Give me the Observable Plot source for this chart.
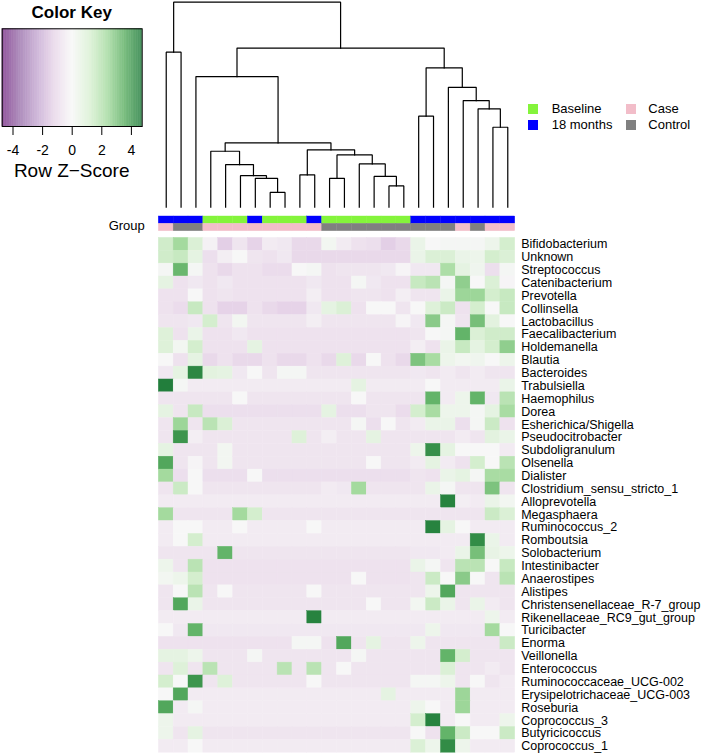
<!DOCTYPE html>
<html>
<head>
<meta charset="utf-8">
<script src="https://cdn.jsdelivr.net/npm/d3@7"></script>
<script src="https://cdn.jsdelivr.net/npm/@observablehq/plot@0.6"></script>
<style>
  body { margin: 0; background: #fff; font-family: "Liberation Sans", Arial, Helvetica, sans-serif; }
  #chart { position: relative; width: 717px; height: 754px; overflow: hidden; background: #fff; }
  #chart svg { position: absolute; left: 0; top: 0; }
  .t { position: absolute; white-space: nowrap; color: #000; font-family: "Liberation Sans", Arial, Helvetica, sans-serif; }
  .sw { position: absolute; width: 10px; height: 10px; }
</style>
</head>
<body>
<div id="chart"></div>
<script>
// ---------------- data ----------------
const taxa = ["Bifidobacterium","Unknown","Streptococcus","Catenibacterium","Prevotella","Collinsella",
  "Lactobacillus","Faecalibacterium","Holdemanella","Blautia","Bacteroides","Trabulsiella","Haemophilus",
  "Dorea","Esherichica/Shigella","Pseudocitrobacter","Subdoligranulum","Olsenella","Dialister",
  "Clostridium_sensu_stricto_1","Alloprevotella","Megasphaera","Ruminococcus_2","Romboutsia",
  "Solobacterium","Intestinibacter","Anaerostipes","Alistipes","Christensenellaceae_R-7_group",
  "Rikenellaceae_RC9_gut_group","Turicibacter","Enorma","Veillonella","Enterococcus",
  "Ruminococcaceae_UCG-002","Erysipelotrichaceae_UCG-003","Roseburia","Coprococcus_3",
  "Butyricicoccus","Coprococcus_1"];

// samples in dendrogram order
const columns = ["s01","s02","s03","s04","s05","s06","s07","s08","s09","s10","s11","s12",
  "s13","s14","s15","s16","s17","s18","s19","s20","s21","s22","s23","s24"];

const timepoint = ["18 months","18 months","18 months","Baseline","Baseline","Baseline","18 months",
  "Baseline","Baseline","Baseline","18 months","Baseline","Baseline","Baseline","Baseline","Baseline",
  "Baseline","18 months","18 months","18 months","18 months","18 months","18 months","18 months"];

const status = ["Case","Control","Control","Case","Case","Case","Case","Case","Case","Case","Case",
  "Control","Control","Control","Control","Control","Control","Control","Control","Control","Case",
  "Control","Case","Case"];

// row z-scores (one array per taxon, columns in dendrogram order)
const zRows = [
 [1.4,2.4,1.1,-0.2,-1.3,-0.6,-1.2,-0.4,-0.5,-1.0,-1.0,0.2,-0.4,-0.7,-0.8,-1.3,-1.0,0.5,0.0,0.1,0.1,0.1,0.4,1.3],
 [1.4,1.6,0.7,-0.8,-0.3,0.0,-0.6,-0.7,-0.5,-1.0,-1.0,-1.0,-1.0,-1.0,-1.0,-1.0,-1.0,0.5,1.1,1.1,0.5,0.4,1.3,1.1],
 [0.1,3.3,0.1,-0.7,-1.0,-0.7,-0.7,-0.9,-0.9,0.0,0.1,-0.7,-0.6,-0.6,-0.6,-0.5,-0.1,-0.5,-0.5,2.2,0.7,0.3,-0.8,0.1],
 [0.7,-0.7,-0.5,-0.7,-0.5,-0.7,-0.7,-0.7,-0.7,-0.7,-0.5,-0.7,-0.7,0.1,-0.5,-0.7,-0.7,1.6,1.9,0.1,2.7,0.0,1.1,-0.1],
 [-0.7,-0.7,0.0,-0.7,-0.6,-0.7,-0.7,-0.7,-0.7,-0.7,-0.3,-0.7,-0.7,-0.6,-0.6,-0.7,-0.3,-0.6,-0.6,0.5,2.5,2.5,1.3,1.6],
 [-0.7,-0.9,1.6,-0.7,-1.2,-1.2,-0.7,-1.0,-1.2,-1.2,-0.5,0.7,1.1,-0.7,0.0,0.0,-0.6,0.0,1.0,1.5,-0.7,1.3,0.0,1.6],
 [-0.6,-0.6,-0.5,1.3,-0.6,0.2,-0.6,-0.6,-0.6,-0.6,-0.3,-0.6,-0.6,-0.6,-0.6,-0.6,-0.1,-0.5,2.8,0.1,-0.6,3.1,0.8,0.0],
 [1.0,-0.7,0.5,-0.7,-0.7,-0.5,-0.7,-0.7,-0.7,-0.7,-0.7,-0.7,-0.7,-0.7,-0.7,-0.7,-0.7,-0.6,0.0,0.1,3.4,1.1,1.4,1.4],
 [1.0,0.2,1.3,-0.7,-0.7,-0.7,0.7,-0.7,-0.7,-0.7,-0.7,-0.7,-0.7,-0.7,-0.7,-0.7,-0.7,-0.3,-0.7,0.5,1.6,0.7,1.3,2.7],
 [0.0,-0.7,0.7,-1.0,-0.7,-1.0,-1.0,-0.7,-1.0,-1.0,-0.7,-1.0,1.0,-1.0,0.0,-0.7,-1.0,3.0,2.3,0.4,0.2,0.3,0.0,0.4],
 [-0.5,0.7,4.4,0.8,0.7,-0.5,0.0,-0.6,0.1,0.1,-0.6,-0.6,-0.6,-0.6,-0.6,-0.6,-0.6,-0.5,-0.6,-0.4,-0.6,-0.4,-0.6,-0.6],
 [4.6,0.1,-0.4,-0.4,-0.4,-0.4,-0.4,-0.4,-0.4,-0.4,-0.4,-0.4,-0.4,0.7,-0.4,-0.4,-0.4,-0.4,0.0,-0.4,-0.4,-0.4,-0.4,0.5],
 [-0.6,-0.6,-0.6,-0.6,-0.6,0.0,-0.6,-0.6,-0.6,-0.6,-0.6,-0.6,-0.6,0.0,-0.6,-0.6,-0.6,-0.6,3.4,-0.4,0.4,3.4,-0.5,1.9],
 [0.7,-0.6,1.6,-0.8,-0.8,-0.8,-0.8,-0.8,-0.8,-0.8,-0.8,0.7,-0.8,-0.8,-0.6,-0.6,-0.9,1.3,2.3,0.4,0.4,0.1,0.7,2.3],
 [-0.6,2.5,-0.6,1.9,1.1,-0.6,-0.6,-0.6,-0.6,-0.6,-0.6,-0.6,-0.6,0.1,-0.8,0.0,-0.6,-0.4,0.5,0.5,-0.8,0.1,1.5,-0.7],
 [-0.6,4.1,-0.3,-0.6,-0.6,-0.6,-0.6,-0.6,-0.6,1.0,-0.6,-0.3,-0.6,-0.6,0.7,-0.6,-0.6,-0.6,-0.6,-0.6,-0.4,-0.6,0.8,0.5],
 [0.7,-0.6,-0.6,-0.6,0.2,-0.6,-0.6,-0.6,-0.6,-0.6,-0.6,-0.6,-0.6,-0.6,-0.6,-0.6,-0.6,0.4,4.2,0.7,0.0,0.0,0.0,-0.4],
 [3.7,-0.6,-0.1,-0.6,0.2,-0.6,-0.6,-0.6,-0.6,-0.6,-0.6,-0.6,-0.6,-0.6,0.0,-0.6,-0.6,-0.4,0.7,-0.4,-0.7,1.3,0.0,1.9],
 [2.4,-0.8,0.0,-0.8,-0.8,-0.8,0.0,-0.8,-0.8,-0.8,-0.8,-0.8,-0.8,-0.8,-0.8,-0.8,-0.8,-0.6,-0.7,0.5,0.7,0.1,2.3,2.3],
 [-0.6,1.5,0.0,-0.6,-0.6,-0.6,-0.6,-0.6,-0.6,-0.6,-0.6,-0.4,-0.5,2.4,-0.6,-0.6,-0.6,-0.6,0.5,0.1,-0.6,-0.6,3.0,-0.6],
 [-0.4,-0.4,-0.4,-0.4,-0.4,-0.4,-0.4,-0.4,-0.4,-0.4,-0.4,-0.4,-0.4,-0.4,-0.4,-0.4,-0.4,-0.4,-0.4,4.5,-0.3,-0.4,0.5,0.2],
 [2.4,-0.6,-0.6,-0.6,-0.6,2.4,1.3,-0.6,-0.6,-0.6,-0.6,-0.6,-0.6,-0.6,-0.6,-0.6,-0.6,-0.6,-0.6,-0.6,-0.6,-0.6,1.5,1.1],
 [-0.4,0.0,0.0,-0.4,-0.4,0.0,-0.4,-0.4,-0.4,-0.4,0.0,-0.4,-0.4,-0.4,-0.4,-0.4,-0.4,-0.4,4.5,0.7,0.0,-0.4,-0.4,-0.4],
 [-0.4,0.0,1.3,-0.4,-0.4,-0.4,-0.4,-0.4,-0.4,-0.4,-0.4,-0.4,-0.4,-0.4,-0.4,-0.4,-0.4,-0.4,-0.4,-0.4,-0.4,4.3,0.5,-0.4],
 [-0.6,-0.6,-0.6,-0.6,3.4,-0.6,-0.6,-0.6,-0.6,-0.6,-0.6,-0.6,-0.6,-0.6,-0.6,-0.6,-0.6,-0.5,-0.5,-0.4,0.5,3.1,0.6,0.4],
 [0.4,-0.6,1.9,-0.7,-0.7,-0.7,-0.7,-0.7,-0.7,-0.7,-0.7,-0.7,-0.7,-0.7,-0.7,-0.7,-0.7,0.5,0.1,-0.6,1.9,1.9,0.0,1.6],
 [0.2,0.4,1.3,-0.7,-0.7,-0.7,-0.7,-0.7,-0.7,-0.7,-0.7,-0.7,-0.7,0.0,-0.7,-0.7,-0.7,-0.6,1.5,0.0,2.8,0.0,-0.6,1.9],
 [-0.6,0.0,1.9,-0.6,0.0,-0.6,-0.6,-0.6,-0.6,-0.6,0.0,-0.6,-0.6,-0.6,-0.6,-0.6,-0.6,-0.6,0.4,3.7,-0.6,-0.6,-0.6,-0.6],
 [-0.6,3.7,0.5,-0.6,-0.6,-0.6,-0.6,-0.6,-0.6,-0.6,-0.6,-0.6,-0.6,-0.6,0.0,-0.6,-0.6,0.2,1.5,0.5,-0.6,0.5,-0.4,-0.6],
 [-0.4,-0.4,-0.4,-0.4,-0.4,-0.4,-0.4,-0.4,-0.4,-0.4,4.5,-0.4,-0.4,-0.4,-0.4,-0.4,-0.4,-0.4,-0.4,-0.4,-0.4,-0.4,0.4,-0.4],
 [0.0,-0.5,3.4,-0.5,-0.5,-0.5,-0.5,-0.5,-0.5,-0.5,-0.5,-0.5,-0.5,-0.5,-0.5,-0.5,-0.5,-0.5,0.4,-0.5,-0.5,-0.5,2.4,0.0],
 [-0.7,-0.7,-0.7,-0.7,-0.7,-0.7,-0.7,-0.7,-0.7,0.1,0.1,-0.7,3.7,-0.6,0.7,-0.6,-0.6,0.4,-0.6,-0.6,-0.6,-0.6,-0.6,1.5],
 [0.7,0.7,0.4,-0.6,-0.6,-0.6,0.1,-0.6,-0.6,-0.6,-0.6,-0.6,-0.6,0.1,-0.6,-0.6,-0.6,-0.6,-0.6,3.4,1.3,-0.6,-0.6,-0.6],
 [-0.6,1.0,-0.6,1.9,-0.6,-0.6,-0.6,-0.6,1.9,-0.6,1.9,-0.6,0.0,-0.6,-0.6,-0.6,-0.6,-0.6,-0.6,1.1,-0.6,-0.6,-0.4,-0.6],
 [1.3,0.0,4.1,-0.6,1.0,-0.6,-0.6,-0.6,-0.6,-0.6,0.0,-0.6,-0.6,-0.6,-0.6,-0.6,-0.6,0.1,0.1,0.4,-0.6,0.0,-0.6,-0.4],
 [0.0,3.7,-0.4,-0.4,-0.4,-0.4,-0.4,-0.4,-0.4,-0.4,-0.4,-0.4,-0.4,-0.4,-0.4,0.7,-0.4,-0.4,-0.4,-0.4,2.5,-0.4,-0.4,-0.4],
 [3.7,-0.4,0.1,-0.4,-0.4,-0.4,-0.4,-0.4,-0.4,-0.4,-0.4,-0.4,-0.4,-0.4,-0.4,-0.4,-0.4,0.4,0.0,-0.4,2.5,-0.4,-0.4,-0.4],
 [0.4,-0.4,-0.4,-0.4,-0.4,-0.4,-0.4,-0.4,-0.4,-0.4,-0.4,-0.4,-0.4,-0.4,-0.4,-0.4,-0.4,1.3,4.5,-0.4,0.0,-0.4,-0.4,0.4],
 [0.4,-0.6,0.7,-0.6,-0.6,-0.6,-0.6,-0.6,-0.6,-0.6,-0.6,-0.6,-0.6,-0.6,-0.6,-0.6,-0.6,0.0,-0.7,3.4,1.5,0.0,0.0,1.5],
 [-0.4,-0.4,0.0,-0.4,-0.4,-0.4,-0.4,-0.4,-0.4,-0.4,-0.4,-0.4,-0.4,-0.4,-0.4,-0.4,-0.4,1.1,0.4,4.3,0.4,-0.4,-0.4,-0.4]
];

// column dendrogram, hclust style: negative = leaf -(position+1), positive = earlier merge (1-based)
const merges = [
  [-1, -2, 75.6], [-8, -9, 7.2], [-7, 2, 14.1], [-6, 3, 15.4], [-5, 4, 20.8], [-4, 5, 27.3],
  [-10, -11, 15.8], [-12, -13, 14.1], [-16, -17, 10.4], [-15, 9, 15.0], [-14, 10, 21.1],
  [8, 11, 25.5], [7, 12, 28.0], [6, 13, 31.4], [-3, 14, 63.7], [-18, -19, 44.4],
  [-23, -24, 39.0], [-22, 17, 48.0], [-21, 18, 52.0], [-20, 19, 58.5], [16, 20, 68.0],
  [15, 21, 77.6], [1, 22, 100]
];

const keyTicks = [-4, -2, 0, 2, 4];
const keyRange = [-4.73, 4.73];
const prgn9 = ["#762A83","#9970AB","#C2A5CF","#E7D4E8","#F7F7F7","#D9F0D3","#A6DBA0","#5AAE61","#1B7837"];
const groupNames = ["Baseline", "18 months", "Case", "Control"];
const groupColors = ["#84F43B", "#0000FF", "#F2BDC9", "#808080"];

// ---------------- layout ----------------
const W = 717, H = 754;
const FONT = '"Liberation Sans", Arial, Helvetica, sans-serif';
const hmLeft = 158.3, hmRight = 514.7, hmTop = 237.4, hmBottom = 752.2;
const chart = document.getElementById("chart");
const baseStyle = {background: "transparent", fontFamily: FONT, overflow: "visible"};

const stops = prgn9.map((_, i) => keyRange[0] + i * (keyRange[1] - keyRange[0]) / (prgn9.length - 1));
const colorOpts = {type: "linear", domain: stops, range: prgn9, clamp: true};

// heatmap
const cells = taxa.flatMap((t, j) => zRows[j].map((z, i) => ({taxon: t, col: columns[i], z})));
chart.append(Plot.plot({
  width: W, height: H,
  marginLeft: hmLeft, marginRight: W - hmRight, marginTop: hmTop, marginBottom: H - hmBottom,
  style: {...baseStyle, fontSize: "12.5px"},
  x: {type: "band", domain: columns, padding: 0, round: false, axis: null},
  y: {type: "band", domain: taxa, padding: 0, round: false, axis: "right", tickSize: 0, tickPadding: 6, label: null},
  color: colorOpts,
  marks: [
    Plot.cell(cells, {x: "col", y: "taxon", fill: "z", stroke: "z", strokeWidth: 0.4, inset: 0})
  ]
}));

// group colour bars
const groupRows = ["Time", "Status"];
const groupCells = columns.flatMap((c, i) => [
  {row: "Time", col: c, g: timepoint[i]},
  {row: "Status", col: c, g: status[i]}
]);
chart.append(Plot.plot({
  width: W, height: H,
  marginLeft: hmLeft, marginRight: W - hmRight, marginTop: 216, marginBottom: H - 230.7,
  style: {...baseStyle, fontSize: "13px"},
  x: {type: "band", domain: columns, padding: 0, round: false, axis: null},
  y: {type: "band", domain: groupRows, padding: 0, round: false, axis: null},
  color: {domain: groupNames, range: groupColors},
  marks: [
    Plot.cell(groupCells, {x: "col", y: "row", fill: "g", stroke: "g", strokeWidth: 0.4, inset: 0}),
    Plot.text(["Group"], {frameAnchor: "left", text: d => d, dx: -14, dy: 2, textAnchor: "end", fontSize: 13, fill: "black"})
  ]
}));

// dendrogram
const nodes = [];
const segs = [];
const nodeOf = id => id < 0 ? {x: -id - 1, h: 0} : nodes[id - 1];
merges.forEach(([a, b, h], k) => {
  const A = nodeOf(a), B = nodeOf(b);
  nodes[k] = {x: (A.x + B.x) / 2, h};
  segs.push({k, x: A.x, h: A.h}, {k, x: A.x, h}, {k, x: B.x, h}, {k, x: B.x, h: B.h});
});
chart.append(Plot.plot({
  width: W, height: H,
  marginLeft: hmLeft, marginRight: W - hmRight, marginTop: 1.7, marginBottom: H - 206.7,
  style: baseStyle,
  x: {domain: [-0.5, columns.length - 0.5], axis: null},
  y: {domain: [0, 100], axis: null},
  marks: [
    Plot.line(segs, {x: "x", y: "h", z: "k", stroke: "black", strokeWidth: 1.2, strokeLinejoin: "miter", strokeLinecap: "square"})
  ]
}));

// colour key
const step = (keyRange[1] - keyRange[0]) / 200;
const keyCells = d3.range(200).map(i => keyRange[0] + i * step);
chart.append(Plot.plot({
  width: W, height: H,
  marginLeft: 1.7, marginRight: W - 141.7, marginTop: 28.3, marginBottom: H - 126,
  style: {...baseStyle, fontSize: "14px"},
  x: {domain: keyRange, ticks: keyTicks, tickSize: 9, tickPadding: 10, tickFormat: d => String(d), label: null},
  y: {domain: [0, 1], axis: null},
  color: colorOpts,
  marks: [
    Plot.rect(keyCells, {x1: d => d, x2: d => d + step * 1.02, y1: 0, y2: 1, fill: d => d + step / 2}),
    Plot.frame({stroke: "black", strokeWidth: 1})
  ]
}));

// text: key titles and group legend
function addText(txt, {left, baseline, size, bold = false, align = "left", width, lh}) {
  const d = document.createElement("div");
  d.className = "t";
  d.textContent = txt;
  const L = lh || size;
  d.style.fontSize = size + "px";
  d.style.lineHeight = L + "px";
  // baseline of Liberation Sans inside a line box of height L
  d.style.top = (baseline - (L / 2 + 0.3465 * size)) + "px";
  if (bold) d.style.fontWeight = "bold";
  if (align === "center") { d.style.left = left + "px"; d.style.width = width + "px"; d.style.textAlign = "center"; }
  else d.style.left = left + "px";
  chart.append(d);
}
addText("Color Key", {left: 0, width: 143.4, baseline: 18.5, size: 17, bold: true, align: "center"});
addText("Row Z\u2212Score", {left: 0, width: 143.4, baseline: 177.5, size: 19, lh: 11, align: "center"});

const legendPos = [
  {sx: 528.3, tx: 551.7, cy: 109},
  {sx: 528.3, tx: 551.7, cy: 124.5},
  {sx: 626, tx: 648.3, cy: 109},
  {sx: 626, tx: 648.3, cy: 124.5}
];
groupNames.forEach((g, i) => {
  const p = legendPos[i];
  const s = document.createElement("div");
  s.className = "sw";
  s.style.left = p.sx + "px";
  s.style.top = (p.cy - 5) + "px";
  s.style.background = groupColors[i];
  chart.append(s);
  addText(g, {left: p.tx, baseline: p.cy + 4.5, size: 13});
});
</script>
</body>
</html>
